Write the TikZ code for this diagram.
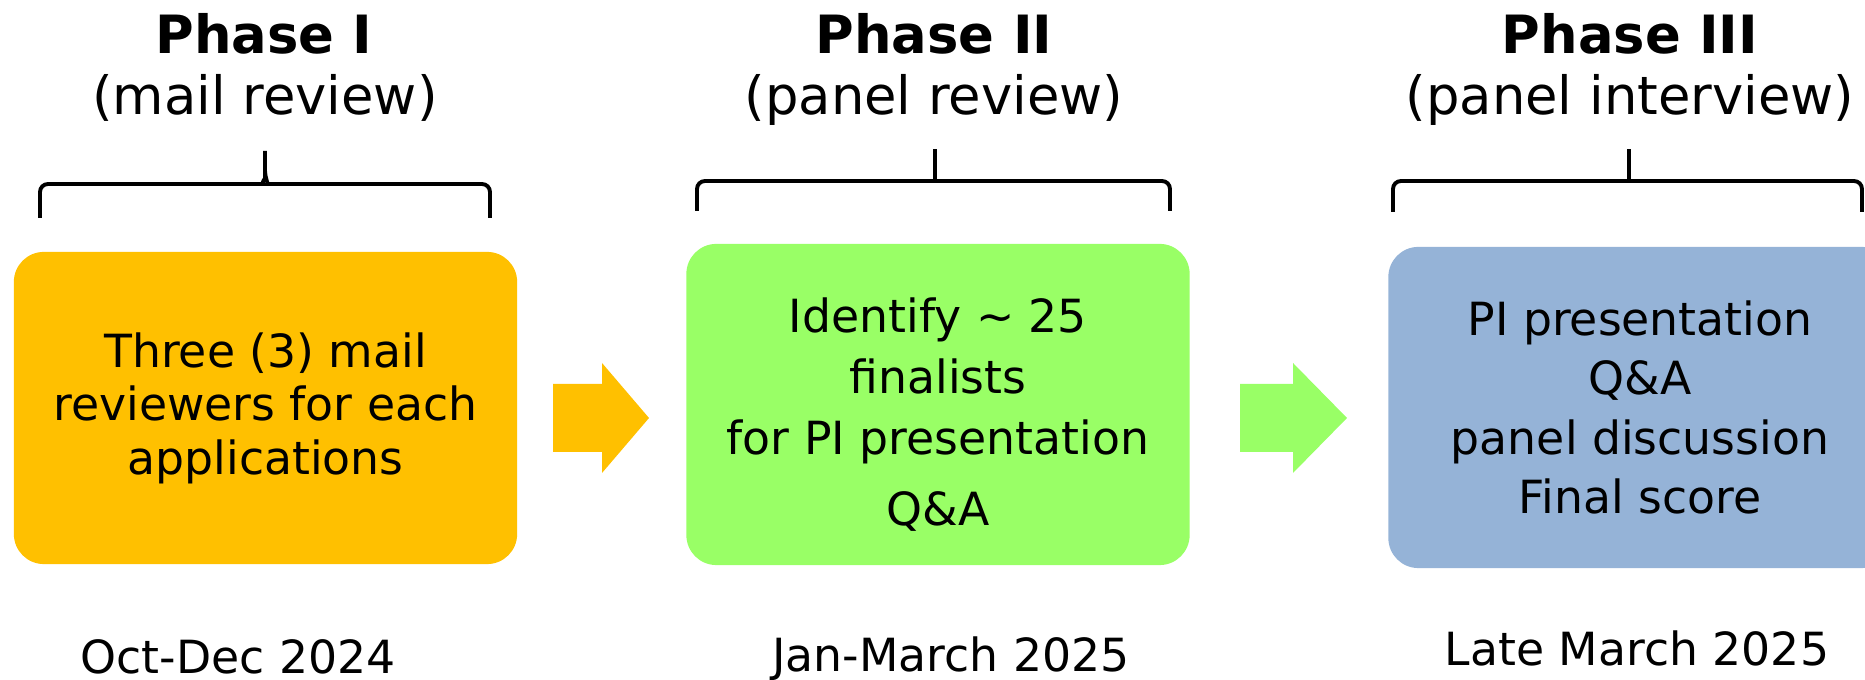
\documentclass[tikz,border=0pt]{standalone}
\usepackage{fontspec}
\setmainfont{DejaVu Sans}
\usepackage{tikz}
\usetikzlibrary{calc}
\definecolor{phaseorange}{HTML}{FFC000}
\definecolor{phasegreen}{HTML}{99FF66}
\definecolor{phaseblue}{HTML}{95B3D7}

\begin{document}
\begin{tikzpicture}[x=0.01cm,y=-0.01cm,
    title/.style={font=\fontsize{15}{18}\selectfont\bfseries,anchor=base},
    subtitle/.style={font=\fontsize{15}{18}\selectfont,anchor=base},
    datelabel/.style={font=\fontsize{13}{16}\selectfont,anchor=base},
    phasebox/.style={rounded corners=0.3cm,minimum width=5.03cm,align=center,inner sep=0pt},
    brace/.style={line width=1.1pt,rounded corners=0.08cm}]
  \useasboundingbox (0,0) rectangle (1865,680);
  \clip (0,0) rectangle (1865,680);

  % titles
  \node[title] (titleA) at (264,54) {Phase I};
  \node[subtitle] (subA) at (265,115) {(mail review)};
  \node[title] (titleB) at (934,54) {Phase II};
  \node[subtitle] (subB) at (934,115) {(panel review)};
  \node[title] (titleC) at (1630,54) {Phase III};
  \node[subtitle] (subC) at (1630,115) {(panel interview)};

  % braces
  \coordinate (braceAl) at (40,218);
  \coordinate (braceAr) at (490,218);
  \coordinate (braceAt) at (265,151);
  \draw[brace] (braceAl) |- ($(braceAt)+(-10,33)$) to[out=0,in=-90] ($(braceAt)+(0,20)$) -- (braceAt);
  \draw[brace] (braceAr) |- ($(braceAt)+(10,33)$) to[out=180,in=-90] ($(braceAt)+(0,20)$);
  \draw[brace] (697,211) -- (697,181) -- (1170,181) -- (1170,211);
  \draw[brace] (935,181) -- (935,149);
  \draw[brace] (1393,212) -- (1393,181) -- (1862,181) -- (1862,212);
  \draw[brace] (1629,181) -- (1629,149);

  % boxes
  \node[phasebox,fill=phaseorange,minimum height=3.12cm,font=\fontsize{13}{15.2}\selectfont]
    (mail) at (265.5,408) {Three (3) mail\\reviewers for each\\applications};
  \node[phasebox,fill=phasegreen,minimum height=3.21cm,font=\fontsize{13}{17.3}\selectfont]
    (panel) at (938,404.5) {\rule{0pt}{15.6pt}Identify \textasciitilde{} 25\\finalists\hspace*{0.6em}\\for PI presentation\hspace*{0.6em}\\[3pt]Q\&A};
  \node[phasebox,fill=phaseblue,minimum height=3.21cm,font=\fontsize{13}{16.9}\selectfont]
    (interview) at (1640,407.5) {PI presentation\\Q\&A\\panel discussion\\Final score};

  % arrows
  \fill[phaseorange] (553,384) -- (602,384) -- (602,363) -- (649,418) -- (602,473) -- (602,452) -- (553,452) -- cycle;
  \fill[phasegreen] (1240,384) -- (1293,384) -- (1293,363) -- (1347,418) -- (1293,473) -- (1293,452) -- (1240,452) -- cycle;

  % dates
  \node[datelabel] (dateA) at (238,674) {Oct-Dec 2024};
  \node[datelabel] (dateB) at (951,672) {Jan-March 2025};
  \node[datelabel] (dateC) at (1637,666) {Late March 2025};
\end{tikzpicture}
\end{document}
